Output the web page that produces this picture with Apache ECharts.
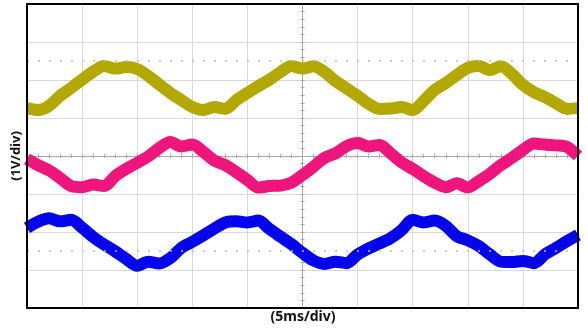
<!DOCTYPE html>
<html>
<head>
<meta charset="utf-8">
<script src="https://cdn.jsdelivr.net/npm/echarts@6/dist/echarts.min.js"></script>
<style>
  html, body { margin: 0; padding: 0; background: #fff; }
  #chart { width: 588px; height: 329px; }
</style>
</head>
<body>
<div id="chart"></div>
<script>
// time axis, ms relative to screen centre (5 ms/div, 10 div)
var timeMs = [-25, -24, -23, -22, -21, -20, -19, -18, -17, -16, -15, -14, -13, -12, -11, -10,
  -9, -8, -7, -6, -5, -4, -3, -2, -1, 0, 1, 2, 3, 4, 5, 6, 7, 8, 9, 10,
  11, 12, 13, 14, 15, 16, 17, 18, 19, 20, 21, 22, 23, 24, 25];

// volts (1 V/div)
var olive = [1.26, 1.21, 1.32, 1.58, 1.79, 2.01, 2.22, 2.37, 2.30, 2.34, 2.29, 2.11, 1.88, 1.66, 1.47, 1.29,
  1.21, 1.29, 1.24, 1.47, 1.66, 1.84, 2.01, 2.21, 2.37, 2.30, 2.36, 2.21, 1.97, 1.78, 1.58, 1.37,
  1.24, 1.25, 1.29, 1.21, 1.45, 1.74, 1.92, 2.13, 2.32, 2.37, 2.26, 2.36, 2.16, 1.87, 1.68, 1.55,
  1.39, 1.24, 1.26];
var pink = [-0.08, -0.24, -0.38, -0.58, -0.79, -0.82, -0.75, -0.79, -0.53, -0.34, -0.18, -0.01, 0.21, 0.37, 0.25, 0.30,
  0.11, -0.12, -0.24, -0.43, -0.63, -0.83, -0.79, -0.78, -0.70, -0.50, -0.28, -0.05, 0.07, 0.26, 0.34, 0.25,
  0.29, 0.07, -0.17, -0.34, -0.53, -0.70, -0.82, -0.72, -0.83, -0.66, -0.47, -0.24, -0.05, 0.16, 0.33, 0.30,
  0.28, 0.24, 0.00];
var blue = [-1.89, -1.73, -1.64, -1.72, -1.68, -1.89, -2.13, -2.33, -2.51, -2.71, -2.89, -2.78, -2.83, -2.69, -2.42, -2.26,
  -2.09, -1.91, -1.75, -1.72, -1.75, -1.70, -1.92, -2.12, -2.32, -2.55, -2.75, -2.84, -2.78, -2.82, -2.59, -2.43,
  -2.30, -2.16, -1.95, -1.68, -1.75, -1.70, -1.84, -2.11, -2.22, -2.37, -2.59, -2.78, -2.79, -2.76, -2.82, -2.59,
  -2.42, -2.24, -2.08];

// dotted cursor levels
var cursorLevels = [2.5, -2.5];

var xLabel = '(5ms/div)';
var yLabel = '(1V/div)';

function pairs(vals) {
  return timeMs.map(function (t, i) { return [t, vals[i]]; });
}

var gridCol = '#d9d9d9';
var axisCol = '#a8a8a8';

function xAx(pos) {
  return {
    type: 'value', min: -25, max: 25, interval: 5, position: pos,
    axisLine: { onZero: true, lineStyle: { color: axisCol, width: 1 } },
    axisTick: { show: true, length: 2, lineStyle: { color: axisCol } },
    minorTick: { show: true, splitNumber: 5, length: 2, lineStyle: { color: axisCol } },
    axisLabel: { show: false },
    splitLine: { show: pos === 'bottom', lineStyle: { color: gridCol, width: 1 } }
  };
}
function yAx(pos) {
  return {
    type: 'value', min: -4, max: 4, interval: 1, position: pos,
    axisLine: { onZero: true, lineStyle: { color: axisCol, width: 1 } },
    axisTick: { show: true, length: 2, lineStyle: { color: axisCol } },
    minorTick: { show: true, splitNumber: 5, length: 2, lineStyle: { color: axisCol } },
    axisLabel: { show: false },
    splitLine: { show: pos === 'left', lineStyle: { color: gridCol, width: 1 } }
  };
}

function trace(name, vals, color) {
  return {
    name: name, type: 'line', data: pairs(vals),
    showSymbol: false, smooth: 0.3, clip: true,
    lineStyle: { width: 12, color: color, cap: 'butt', join: 'round' },
    itemStyle: { color: color },
    emphasis: { disabled: true },
    z: 3
  };
}

var chart = echarts.init(document.getElementById('chart'), null, { renderer: 'canvas' });
var s0 = trace('CH1', olive, '#b2a800');
s0.markLine = {
  silent: true, symbol: 'none', label: { show: false },
  lineStyle: { type: [2, 9], color: '#bdbdbd', width: 1.5 },
  data: cursorLevels.map(function (v) { return { yAxis: v }; })
};

chart.setOption({
  animation: false,
  backgroundColor: '#fff',
  grid: { left: 27, right: 10, top: 4, bottom: 21, containLabel: false },
  xAxis: [xAx('bottom'), xAx('top')],
  yAxis: [yAx('left'), yAx('right')],
  series: [
    s0,
    trace('CH2', pink, '#f0157c'),
    trace('CH3', blue, '#0505ec')
  ],
  graphic: [
    {
      type: 'rect', z: 100, silent: true,
      shape: { x: 27, y: 4, width: 551, height: 304 },
      style: { fill: null, stroke: '#000', lineWidth: 2 }
    },
    {
      type: 'text', z: 100, x: 303, y: 317,
      style: { text: xLabel, font: 'bold 14px "Noto Sans", sans-serif', fill: '#111', align: 'center', verticalAlign: 'middle' }
    },
    {
      type: 'text', z: 100, x: 16, y: 156, rotation: Math.PI / 2,
      style: { text: yLabel, font: 'bold 13px "Noto Sans", sans-serif', fill: '#111', align: 'center', verticalAlign: 'middle' }
    }
  ]
});
</script>
</body>
</html>
